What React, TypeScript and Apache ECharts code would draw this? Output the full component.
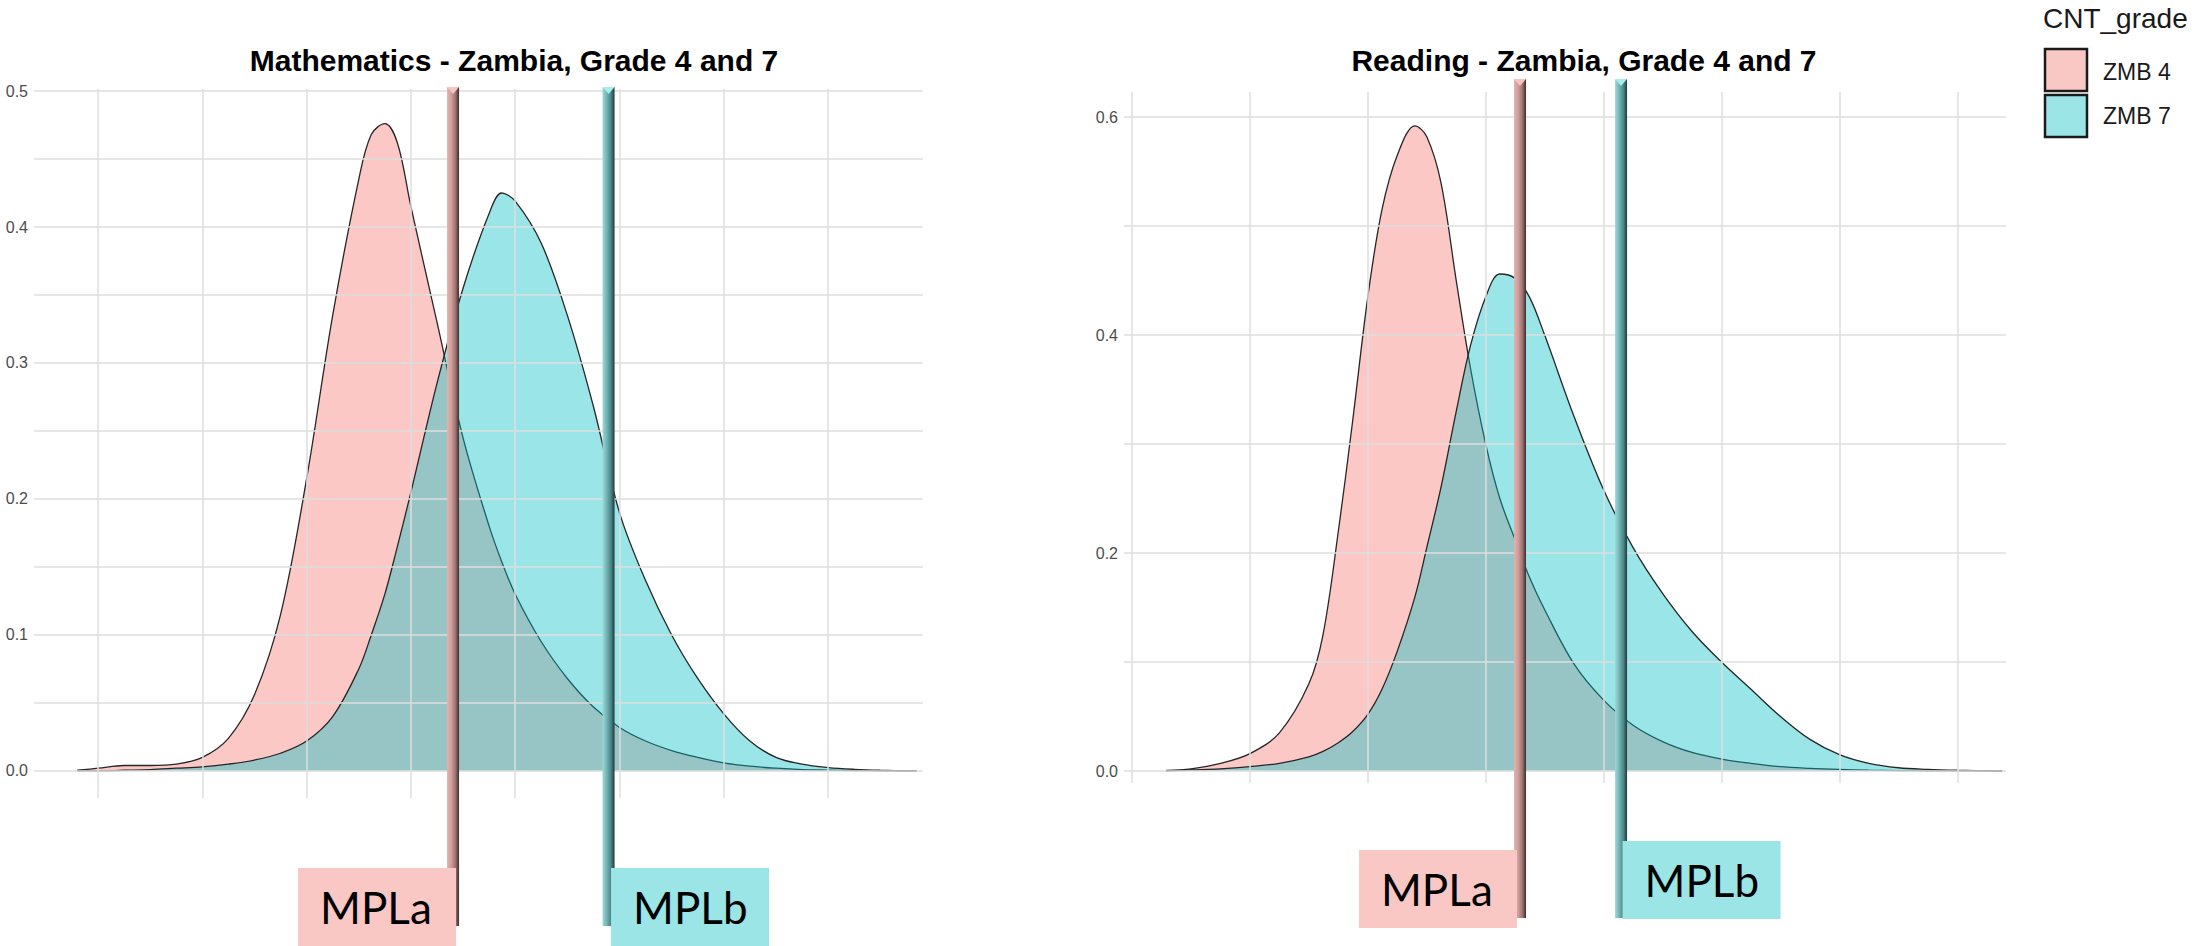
import React, { useEffect, useRef } from "react";
import * as echarts from "echarts";

// ---------- data ----------
const groups = ["ZMB 4", "ZMB 7"];

const mathX = [80, 100, 125, 150, 175, 200, 225, 250, 275, 300, 325, 350, 362, 375, 387, 400, 425, 450, 475, 487, 500, 525, 550, 575, 600, 625, 650, 675, 700, 725, 750, 775, 800, 825, 850, 885];
const mathZmb4 = [0.0005, 0.002, 0.004, 0.004, 0.005, 0.01, 0.024, 0.056, 0.115, 0.215, 0.335, 0.435, 0.468, 0.476, 0.462, 0.415, 0.33, 0.245, 0.18, 0.154, 0.13, 0.095, 0.068, 0.047, 0.032, 0.022, 0.015, 0.01, 0.006, 0.0035, 0.002, 0.001, 0.0006, 0.0003, 0.0001, 0];
const mathZmb7 = [0, 0, 0.0005, 0.001, 0.002, 0.003, 0.005, 0.008, 0.013, 0.022, 0.04, 0.075, 0.1, 0.13, 0.165, 0.205, 0.285, 0.355, 0.41, 0.425, 0.419, 0.388, 0.335, 0.268, 0.19, 0.14, 0.1, 0.068, 0.042, 0.022, 0.01, 0.005, 0.0025, 0.0012, 0.0005, 0];

const readX = [129, 150, 175, 200, 225, 250, 262, 275, 287, 300, 312, 325, 340, 350, 362, 375, 387, 400, 412, 425, 437, 450, 475, 500, 525, 550, 575, 600, 625, 650, 675, 700, 725, 750, 775, 800, 838];
const readZmb4 = [0.0005, 0.002, 0.007, 0.016, 0.035, 0.08, 0.125, 0.22, 0.32, 0.435, 0.515, 0.565, 0.592, 0.582, 0.54, 0.45, 0.37, 0.3, 0.25, 0.212, 0.178, 0.148, 0.098, 0.065, 0.042, 0.027, 0.017, 0.011, 0.007, 0.004, 0.0025, 0.0015, 0.0008, 0.0004, 0.0002, 0.0001, 0];
const readZmb7 = [0, 0.001, 0.002, 0.004, 0.007, 0.013, 0.018, 0.026, 0.036, 0.052, 0.075, 0.11, 0.16, 0.205, 0.26, 0.33, 0.39, 0.435, 0.456, 0.452, 0.435, 0.4, 0.325, 0.258, 0.205, 0.163, 0.128, 0.1, 0.075, 0.05, 0.029, 0.015, 0.007, 0.003, 0.0015, 0.0007, 0];

const mathYTicks = [0, 0.1, 0.2, 0.3, 0.4, 0.5];
const readYTicks = [0, 0.2, 0.4, 0.6];
const mathHGrid = [0, 0.05, 0.1, 0.15, 0.2, 0.25, 0.3, 0.35, 0.4, 0.45, 0.5];
const readHGrid = [0, 0.1, 0.2, 0.3, 0.4, 0.5, 0.6];
const vGrid = [100, 200, 300, 400, 500, 600, 700, 800];

const mplLabels = ["MPLa", "MPLb"];
const mathMPL = [440.4, 589.5];
const readMPL = [429.1, 514.8];

const titles = ["Mathematics - Zambia, Grade 4 and 7", "Reading - Zambia, Grade 4 and 7"];

// ---------- styles ----------
const FILL = ["rgba(248,118,109,0.4)", "rgba(0,191,196,0.4)"];
const KEY = ["#F9C8C5", "#9BE5E7"];
const BOX = ["#F9C8C5", "#9BE5E7"];
const BAR_STOPS = [
  [
    { offset: 0, color: "#e2b3b0" },
    { offset: 0.35, color: "#cf9e9b" },
    { offset: 0.7, color: "#9c7371" },
    { offset: 1, color: "#3b2c2b" },
  ],
  [
    { offset: 0, color: "#9fd8d9" },
    { offset: 0.35, color: "#72b4b6" },
    { offset: 0.7, color: "#4b8587" },
    { offset: 1, color: "#1f3a3b" },
  ],
];
const BAR_TIP = ["#f6c4c1", "#a8ecee"];

const zip = (xs: number[], ys: number[]) => xs.map((x, i) => [x, ys[i]]);

export default function App() {
  const ref = useRef<HTMLDivElement>(null);

  useEffect(() => {
    if (!ref.current) return;
    const chart = echarts.init(ref.current, null, { renderer: "svg" });

    const yLabel = (ticks: number[]) => ({
      customValues: ticks,
      formatter: (v: number) => v.toFixed(1),
      color: "#4D4D4D",
      fontSize: 16,
      fontFamily: "Liberation Sans, Arial, sans-serif",
      margin: 6,
    });

    const gridSeries = (idx: number, h: number[]) => ({
      type: "line",
      xAxisIndex: idx,
      yAxisIndex: idx,
      data: [],
      silent: true,
      z: 1,
      markLine: {
        silent: true,
        symbol: ["none", "none"],
        label: { show: false },
        animation: false,
        lineStyle: { color: "#DEDEDE", width: 1.5, type: "solid" },
        emphasis: { disabled: true },
        data: [...h.map((v) => ({ yAxis: v })), ...vGrid.map((v) => ({ xAxis: v }))],
      },
    });

    const densitySeries = (idx: number, name: string, xs: number[], ys: number[], g: number) => ({
      type: "line",
      name,
      xAxisIndex: idx,
      yAxisIndex: idx,
      data: zip(xs, ys),
      smooth: 0.35,
      symbol: "none",
      silent: true,
      z: 2 + g,
      lineStyle: { color: "#262626", width: 1.3 },
      areaStyle: { color: FILL[g], opacity: 1 },
    });

    chart.setOption({
      animation: false,
      grid: [
        { left: 34, top: 89, width: 889, height: 709 },
        { left: 1124, top: 92, width: 882, height: 691 },
      ],
      xAxis: [
        { gridIndex: 0, type: "value", min: 38.6, max: 891, show: false },
        { gridIndex: 1, type: "value", min: 93.2, max: 841.3, show: false },
      ],
      yAxis: [
        {
          gridIndex: 0, type: "value", min: -0.0199, max: 0.5015,
          axisLine: { show: false }, axisTick: { show: false }, splitLine: { show: false },
          axisLabel: yLabel(mathYTicks),
        },
        {
          gridIndex: 1, type: "value", min: -0.011, max: 0.623,
          axisLine: { show: false }, axisTick: { show: false }, splitLine: { show: false },
          axisLabel: yLabel(readYTicks),
        },
      ],
      series: [
        gridSeries(0, mathHGrid),
        gridSeries(1, readHGrid),
        densitySeries(0, groups[0], mathX, mathZmb4, 0),
        densitySeries(0, groups[1], mathX, mathZmb7, 1),
        densitySeries(1, groups[0], readX, readZmb4, 0),
        densitySeries(1, groups[1], readX, readZmb7, 1),
      ],
    });

    // ---------- annotations: MPL bars & labels, titles, legend ----------
    const barTop = [87, 79];
    const barBottom = [926, 918];
    const boxTop = [[868, 868], [850, 841]];
    const boxShift = [[3, 2.5], [-3, 1.5]];
    const BW = 12;
    const BOXW = 158;
    const BOXH = 78;
    const elements: any[] = [];

    [mathMPL, readMPL].forEach((mpls, gi) => {
      mpls.forEach((val, k) => {
        const p = chart.convertToPixel({ gridIndex: gi }, [val, 0]) as number[];
        const cx = p[0];
        elements.push({
          type: "rect",
          z: 100,
          shape: { x: cx - BW / 2, y: barTop[gi], width: BW, height: barBottom[gi] - barTop[gi] },
          style: {
            fill: { type: "linear", x: 0, y: 0, x2: 1, y2: 0, colorStops: BAR_STOPS[k], global: false },
          },
        });
        elements.push({
          type: "polygon",
          z: 101,
          shape: { points: [[cx - BW / 2, barTop[gi]], [cx + BW / 2, barTop[gi]], [cx, barTop[gi] + 7]] },
          style: { fill: BAR_TIP[k] },
        });
        const bx = k === 0 ? cx + boxShift[gi][k] - BOXW : cx + boxShift[gi][k];
        const by = boxTop[gi][k];
        elements.push({
          type: "rect",
          z: 102,
          shape: { x: bx, y: by, width: BOXW, height: BOXH },
          style: { fill: BOX[k] },
        });
        elements.push({
          type: "text",
          z: 103,
          style: {
            text: mplLabels[k],
            x: bx + 22,
            y: by + BOXH / 2,
            align: "left",
            verticalAlign: "middle",
            fill: "#000",
            font: "44px Lato, 'Open Sans', sans-serif",
          },
        });
      });
    });

    const titleX = [514, 1584];
    titles.forEach((t, i) => {
      elements.push({
        type: "text",
        z: 110,
        style: {
          text: t,
          x: titleX[i],
          y: 60,
          align: "center",
          verticalAlign: "middle",
          fill: "#000",
          font: "bold 30px 'Liberation Sans', Arial, sans-serif",
        },
      });
    });

    // legend
    elements.push({
      type: "text",
      z: 110,
      style: {
        text: "CNT_grade",
        x: 2043,
        y: 18,
        align: "left",
        verticalAlign: "middle",
        fill: "#1a1a1a",
        font: "28px 'Liberation Sans', Arial, sans-serif",
      },
    });
    groups.forEach((g, i) => {
      elements.push({
        type: "rect",
        z: 110,
        shape: { x: 2045, y: 49 + i * 46, width: 42, height: 42 },
        style: { fill: KEY[i], stroke: "#1a1a1a", lineWidth: 2.5 },
      });
      elements.push({
        type: "text",
        z: 110,
        style: {
          text: g,
          x: 2103,
          y: 72 + i * 44,
          align: "left",
          verticalAlign: "middle",
          fill: "#1a1a1a",
          font: "23px 'Liberation Sans', Arial, sans-serif",
        },
      });
    });

    chart.setOption({ graphic: { elements } });

    return () => chart.dispose();
  }, []);

  return (
    <div
      ref={ref}
      style={{ position: "absolute", left: 0, top: 0, width: 2195, height: 946, background: "#fff" }}
    />
  );
}
